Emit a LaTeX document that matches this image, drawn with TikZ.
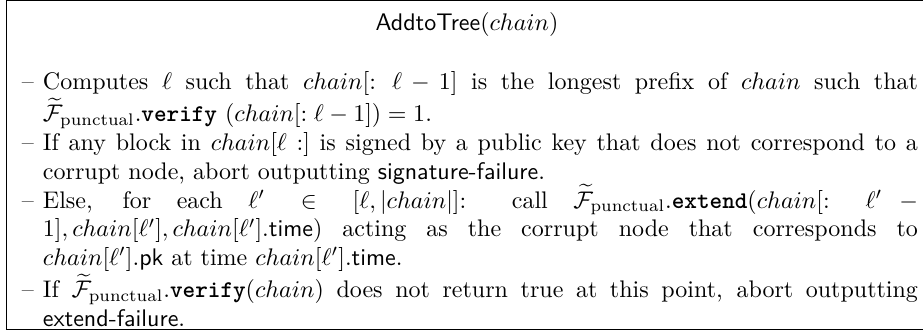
\documentclass[tikz,border=0pt]{standalone}
\usepackage{amsmath,amssymb}
% heavy typewriter face for the method names
\newcommand{\mth}[1]{\text{\ttfamily\bfseries #1}}
\newcommand{\Fp}{\widetilde{\mathcal{F}}_{\text{punctual}}}
\newenvironment{dashlist}{%
  \begin{list}{\textendash}{\leftmargin=0pt\labelwidth=8pt\labelsep=3.8pt
    \itemsep=0pt\parsep=0pt\topsep=0pt\partopsep=0pt\itemindent=0pt}}%
  {\end{list}}
\begin{document}
\begin{tikzpicture}[x=1pt,y=1pt,
  frame/.style={line width=0.45pt, black},
  plain/.style={inner sep=0pt, outer sep=0pt}]
\useasboundingbox (0,0) rectangle (384.6,138.75);
% frame corners (the right side runs past the page edge)
\coordinate (tl) at (2.7,138.6);
\coordinate (tr) at (392,138.6);
\coordinate (bl) at (2.7,1.55);
\coordinate (br) at (392,1.55);
\draw[frame] (tr) -- (tl) -- (bl) -- (br);
% heading
\node[plain, anchor=base] (title) at (194.6,126.05)
  {\textsf{AddtoTree}$(chain)$};
% body, first baseline at the anchor
\node[plain, anchor=base west] (body) at (17.9,101.3) {%
\begin{minipage}[t]{364.6pt}
\begin{dashlist}
\item Computes $\ell$ such that $chain[:\ell-1]$ is the longest prefix of $chain$ such that\linebreak
  $\Fp.\mth{verify}$ $(chain[:\ell-1])=1$.
\item If any block in $chain[\ell:]$ is signed by a public key that does not correspond to a\linebreak
  corrupt node, abort outputting \textsf{signature-failure}.
\item Else, for each $\ell'\in[\ell,|chain|]$: call $\Fp.\mth{extend}(chain[:\ell'-\penalty-10000 1],chain[\ell'],chain[\ell'].\textsf{time})$ acting as the corrupt node that corresponds to\linebreak
  $chain[\ell'].\textsf{pk}$ at time $chain[\ell'].\textsf{time}$.
\item If $\Fp.\mth{verify}(chain)$ does not return true at this point, abort outputting\linebreak
  \textsf{extend-failure}.
\end{dashlist}
\end{minipage}};
\end{tikzpicture}
\end{document}
